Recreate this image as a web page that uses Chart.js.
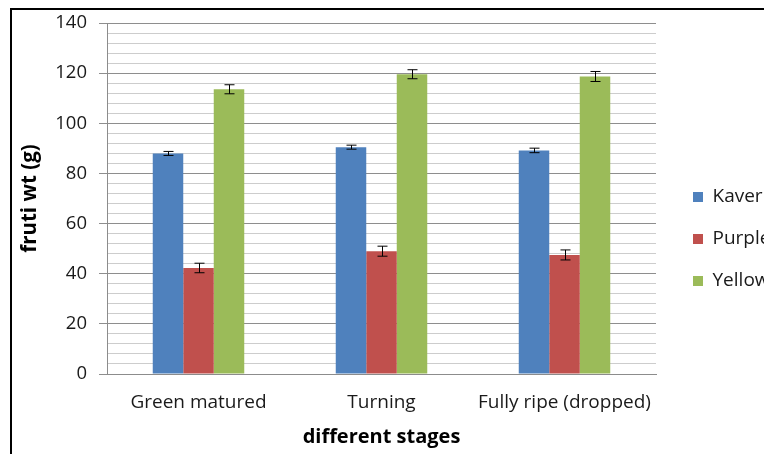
<!DOCTYPE html>
<html>
<head>
<meta charset="utf-8">
<script src="https://cdn.jsdelivr.net/npm/chart.js@4/dist/chart.umd.min.js"></script>
<style>
  html, body { margin: 0; padding: 0; background: #fff; overflow: hidden; }
  #wrap { position: absolute; left: 0; top: 0; width: 790px; height: 456px; }
  #frame { position: absolute; left: 10px; top: 8px; width: 900px; height: 600px;
           border-left: 2px solid #000; border-top: 2px solid #000; pointer-events: none; }
</style>
</head>
<body>
<div id="wrap"><canvas id="myChart" width="790" height="456"></canvas></div>
<div id="frame"></div>
<script>
// data
const stages = ['Green matured', 'Turning', 'Fully ripe (dropped)'];
const kaveri = [88.0, 90.5, 89.2];
const kaveriErr = [0.8, 0.8, 0.9];
const purple = [42.3, 49.0, 47.5];
const purpleErr = [1.9, 2.0, 2.0];
const yellow = [113.6, 119.6, 118.7];
const yellowErr = [1.8, 1.8, 2.0];
const yTicks = [0, 20, 40, 60, 80, 100, 120, 140];

const errors = [kaveriErr, purpleErr, yellowErr];

// draws the +/- error bars on top of each bar
const errorBars = {
    id: 'errorBars',
    afterDatasetsDraw(chart) {
        const ctx = chart.ctx;
        const y = chart.scales.y;
        ctx.save();
        ctx.strokeStyle = '#000';
        ctx.lineWidth = 1;
        chart.data.datasets.forEach(function(ds, i) {
            chart.getDatasetMeta(i).data.forEach(function(bar, j) {
                const v = ds.data[j], e = errors[i][j];
                const x = Math.round(bar.x) + 0.5;
                const top = y.getPixelForValue(v + e);
                const bot = y.getPixelForValue(v - e);
                ctx.beginPath();
                ctx.moveTo(x, top); ctx.lineTo(x, bot);
                ctx.moveTo(x - 5, top); ctx.lineTo(x + 5, top);
                ctx.moveTo(x - 5, bot); ctx.lineTo(x + 5, bot);
                ctx.stroke();
            });
        });
        ctx.restore();
    }
};

// fixed legend width so the plot area ends where it should
const legendWidth = {
    id: 'legendWidth',
    beforeInit(chart) {
        const fit = chart.legend.fit;
        chart.legend.fit = function() {
            fit.bind(chart.legend)();
            this.width = 120;
        };
    }
};

const font = 'Open Sans';
const isMajor = v => yTicks.includes(v);

new Chart(document.getElementById('myChart'), {
    type: 'bar',
    data: {
        labels: stages,
        datasets: [
            { label: 'Kaveri', data: kaveri, backgroundColor: '#4f81bd' },
            { label: 'Purple', data: purple, backgroundColor: '#c0504d' },
            { label: 'Yellow', data: yellow, backgroundColor: '#9bbb59' }
        ]
    },
    options: {
        responsive: false,
        animation: false,
        categoryPercentage: 0.5,
        barPercentage: 1,
        layout: { padding: { top: 22, left: 12, right: 0, bottom: 0 } },
        plugins: {
            tooltip: { enabled: false },
            legend: {
                position: 'right',
                labels: {
                    boxWidth: 10, boxHeight: 10, padding: 23,
                    color: '#1a1a1a',
                    font: { family: font, size: 19 }
                }
            }
        },
        scales: {
            x: {
                grid: { display: false, drawTicks: false },
                border: { color: '#8c8c8c' },
                ticks: { color: '#1a1a1a', padding: 17, font: { family: font, size: 19 } },
                title: {
                    display: true, text: 'different stages', color: '#000',
                    font: { family: font, size: 20, weight: 'bold' },
                    padding: { top: 0, bottom: 7 }
                },
                afterFit(s) { s.height = 82; }
            },
            y: {
                min: 0, max: 140,
                border: { color: '#8c8c8c' },
                grid: {
                    color: c => isMajor(c.tick.value) ? '#8e8e8e' : '#cdcdcd',
                    tickColor: c => isMajor(c.tick.value) ? '#8e8e8e' : 'rgba(0,0,0,0)',
                    tickLength: 8
                },
                ticks: {
                    stepSize: 4, autoSkip: false, padding: 12,
                    color: '#1a1a1a', font: { family: font, size: 18.5 },
                    callback: v => isMajor(v) ? v : ''
                },
                title: {
                    display: true, text: 'fruti wt (g)', color: '#000',
                    font: { family: font, size: 20.5, weight: 'bold' },
                    padding: { top: 6, bottom: 0 }
                },
                afterFit(s) { s.width = 95; }
            },
            gap: {
                position: 'right',
                grid: { display: false },
                border: { display: false },
                ticks: { display: false },
                afterFit(s) { s.width = 14; }
            }
        }
    },
    plugins: [errorBars, legendWidth]
});
</script>
</body>
</html>
